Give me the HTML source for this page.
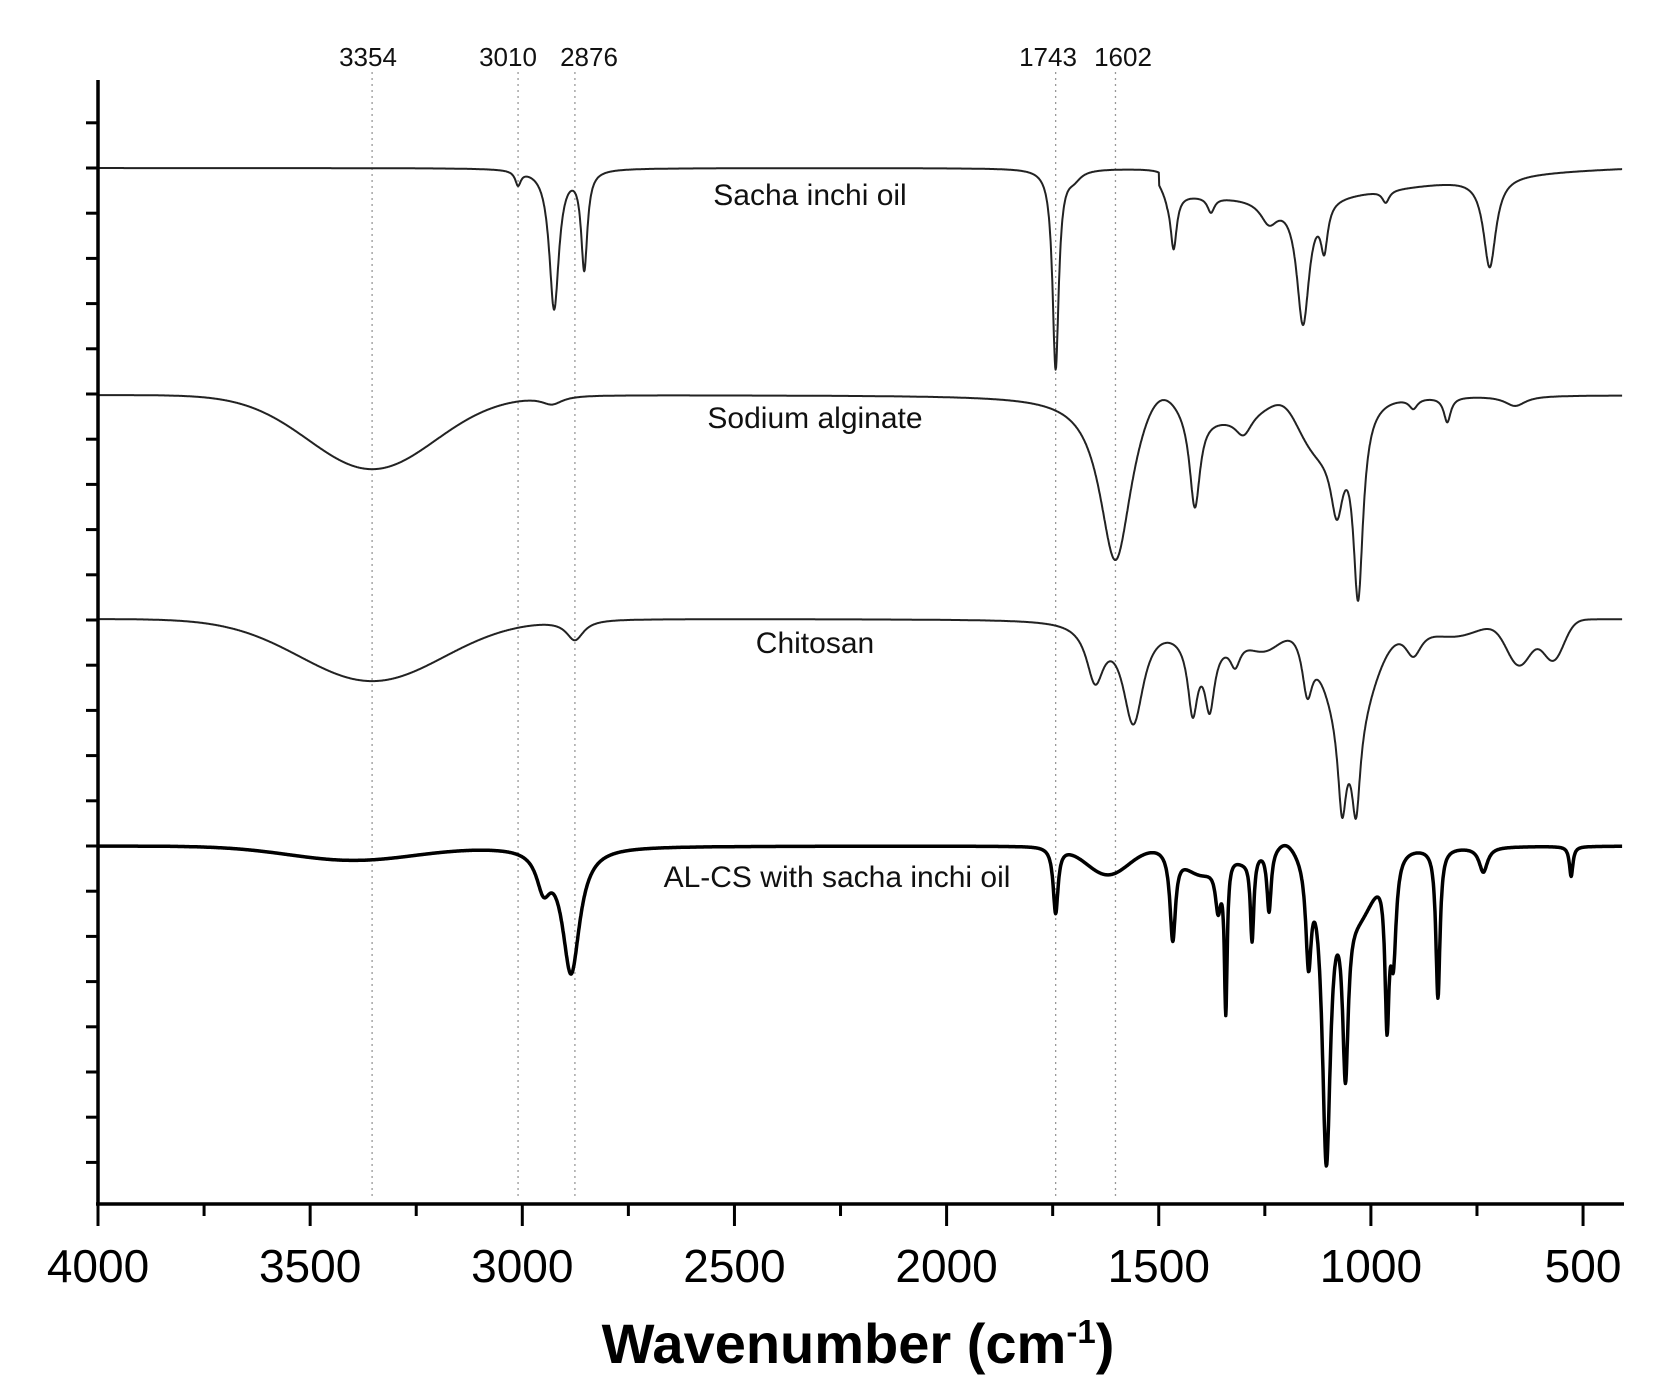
<!DOCTYPE html>
<html><head><meta charset="utf-8"><style>
html,body{margin:0;padding:0;background:#fff;}
svg{display:block;font-family:"Liberation Sans",Arial,sans-serif;}
</style></head><body>
<svg id="s" width="1663" height="1388" viewBox="0 0 1663 1388" xmlns="http://www.w3.org/2000/svg">
<g id="grid" stroke="#999" stroke-width="1.3" stroke-dasharray="2,4"></g>
<g font-size="26" fill="#111" text-anchor="middle">
<text x="368" y="66">3354</text>
<text x="508" y="66">3010</text>
<text x="589" y="66">2876</text>
<text x="1048" y="66">1743</text>
<text x="1123" y="66">1602</text>
</g>
<g id="curves" fill="none"></g>
<g font-size="30" fill="#111" text-anchor="middle">
<text x="810" y="205">Sacha inchi oil</text>
<text x="815" y="428">Sodium alginate</text>
<text x="815" y="653">Chitosan</text>
<text x="837" y="887">AL-CS with sacha inchi oil</text>
</g>
<g id="axes" stroke="#000"></g>
<g font-size="46" fill="#000" text-anchor="middle" id="xl"></g>
<text x="858" y="1363" font-size="56" font-weight="bold" text-anchor="middle" fill="#000">Wavenumber (cm<tspan font-size="33" dy="-20">-1</tspan><tspan dy="20">)</tspan></text>
</svg>
<script>
var NS="http://www.w3.org/2000/svg";
function X(w){return 98+(4000-w)*0.4243;}
function el(p,t,a){var e=document.createElementNS(NS,t);for(var k in a)e.setAttribute(k,a[k]);p.appendChild(e);return e;}
var g=document.getElementById('grid');
[3354,3010,2876,1743,1602].forEach(function(w){el(g,'line',{x1:X(w),x2:X(w),y1:72,y2:1200});});
var ax=document.getElementById('axes');
el(ax,'line',{x1:98,y1:80,x2:98,y2:1205,'stroke-width':3.5});
el(ax,'line',{x1:96,y1:1204,x2:1624,y2:1204,'stroke-width':3.5});
for(var k=-17;k<=8;k++){var y=846+k*45.2;if(y<78||y>1206)continue;el(ax,'line',{x1:86,y1:y,x2:98,y2:y,'stroke-width':3});}
var xl=document.getElementById('xl');
for(var w=4000;w>=500;w-=250){var x=X(w);var maj=(w%500==0);el(ax,'line',{x1:x,y1:1204,x2:x,y2:maj?1226:1216,'stroke-width':3});
 if(maj){var t=el(xl,'text',{x:x,y:1282});t.textContent=w;}}
function G(x,c,d,w){var u=(x-c)/w;return d*Math.exp(-0.5*u*u);}
function L(x,c,d,w){var u=(x-c)/w;return d/(1+u*u);}
var S=[
 {b:168,sw:2,col:'#222',f:function(x){var v=0;
  v+=L(x,3010,14,8)+L(x,2925,140,14)+L(x,2854,98,9)+L(x,1743,200,9)+L(x,1465,55,9)+L(x,1377,15,10)+L(x,1240,22,25)+L(x,1160,125,18)+L(x,1110,45,10)+L(x,720,90,18)+L(x,965,12,10)+L(x,1700,8,20);
  if(x<1500){v+=G(x,1200,20,300)+12*Math.max(0,(x-400)/1100)*(x<1480?1:(1500-x)/20);}
  return v;}},
 {b:395,sw:2,col:'#222',f:function(x){var v=0;
  v+=G(x,3354,74,150)+L(x,2930,8,30)+L(x,1602,165,45)+L(x,1415,95,15)+L(x,1300,22,25)+G(x,1120,50,60)+L(x,1030,180,14)+L(x,1080,70,18)+L(x,820,25,10)+L(x,900,10,12)+L(x,660,10,30)+G(x,1350,15,70)-G(x,1500,25,40)-G(x,1200,15,30);return v;}},
 {b:619,sw:2,col:'#222',f:function(x){var v=0;
  v+=G(x,3354,62,170)+L(x,2876,20,25)+L(x,1650,55,25)+L(x,1560,100,30)+L(x,1420,70,14)+L(x,1380,62,14)+L(x,1320,25,15)+L(x,1150,55,15)+G(x,1050,100,55)+L(x,1068,90,12)+L(x,1035,90,12)+L(x,900,30,25)+G(x,650,45,30)+G(x,570,40,25)+G(x,1250,25,40)+G(x,800,15,60)+G(x,1380,20,60);return v;}},
 {b:846,sw:3.5,col:'#000',f:function(x){var v=0;
  v+=G(x,3400,14,150)+L(x,2885,125,25)+L(x,2950,35,20)+L(x,1743,66,7)+G(x,1620,28,50)+L(x,1467,88,8)+L(x,1360,45,8)+L(x,1342,150,4)+L(x,1280,85,5)+L(x,1240,62,6)+L(x,1147,100,8)+L(x,1105,300,12)+L(x,1060,170,8)+L(x,962,150,6)+L(x,947,95,8)+L(x,842,150,6)+L(x,735,25,12)+L(x,528,30,5)+G(x,1400,25,40)+G(x,1030,60,40)+G(x,1300,10,20)-G(x,1200,10,20);return v;}}
];
var cg=document.getElementById('curves');
S.forEach(function(s){var d='';for(var w=4000;w>=408;w-=1){var y=s.b+s.f(w);d+=(d?'L':'M')+X(w).toFixed(1)+','+y.toFixed(1);}
 el(cg,'path',{d:d,stroke:s.col,'stroke-width':s.sw,'stroke-linejoin':'round'});});
</script>
</body></html>
